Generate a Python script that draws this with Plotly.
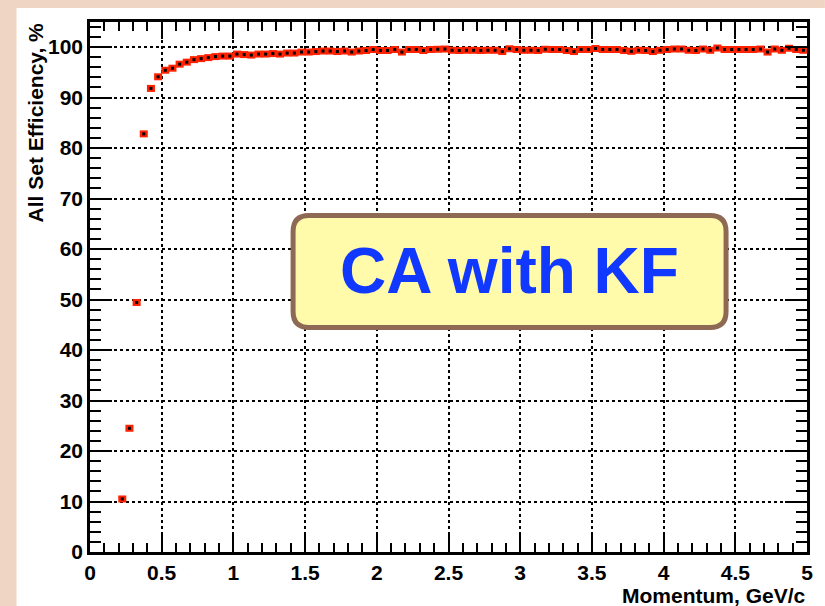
import plotly.graph_objects as go

# Bin centres of the momentum histogram, GeV/c
momentum = [
    0.225, 0.275, 0.325, 0.375, 0.425, 0.475, 0.525, 0.575, 0.625, 0.675,
    0.725, 0.775, 0.825, 0.875, 0.925, 0.975, 1.025, 1.075, 1.125, 1.175,
    1.225, 1.275, 1.325, 1.375, 1.425, 1.475, 1.525, 1.575, 1.625, 1.675,
    1.725, 1.775, 1.825, 1.875, 1.925, 1.975, 2.025, 2.075, 2.125, 2.175,
    2.225, 2.275, 2.325, 2.375, 2.425, 2.475, 2.525, 2.575, 2.625, 2.675,
    2.725, 2.775, 2.825, 2.875, 2.925, 2.975, 3.025, 3.075, 3.125, 3.175,
    3.225, 3.275, 3.325, 3.375, 3.425, 3.475, 3.525, 3.575, 3.625, 3.675,
    3.725, 3.775, 3.825, 3.875, 3.925, 3.975, 4.025, 4.075, 4.125, 4.175,
    4.225, 4.275, 4.325, 4.375, 4.425, 4.475, 4.525, 4.575, 4.625, 4.675,
    4.725, 4.775, 4.825, 4.875, 4.925, 4.975,
]

# Efficiency for the whole track set, %
efficiency = [
    10.5, 24.5, 49.4, 82.8, 91.8, 94.1, 95.4, 95.8, 96.6, 97.0,
    97.5, 97.7, 97.9, 98.1, 98.2, 98.2, 98.6, 98.5, 98.4, 98.6,
    98.6, 98.7, 98.6, 98.8, 98.8, 99.0, 99.0, 99.1, 99.2, 99.2,
    99.1, 99.2, 99.0, 99.2, 99.3, 99.5, 99.3, 99.3, 99.5, 99.0,
    99.5, 99.5, 99.3, 99.5, 99.55, 99.6, 99.35, 99.3, 99.35, 99.35,
    99.3, 99.35, 99.35, 99.1, 99.65, 99.5, 99.35, 99.35, 99.3, 99.55,
    99.5, 99.5, 99.3, 99.1, 99.5, 99.5, 99.7, 99.5, 99.5, 99.5,
    99.3, 99.15, 99.35, 99.3, 99.1, 99.35, 99.5, 99.6, 99.6, 99.35,
    99.3, 99.6, 99.35, 99.8, 99.5, 99.5, 99.5, 99.5, 99.5, 99.6,
    99.0, 99.6, 99.35, 99.75, 99.5, 99.35,
]

half_bin = [0.028] * len(momentum)

x_ticks = [0, 0.5, 1, 1.5, 2, 2.5, 3, 3.5, 4, 4.5, 5]
x_tick_text = ["0", "0.5", "1", "1.5", "2", "2.5", "3", "3.5", "4", "4.5", "5"]
y_ticks = [0, 10, 20, 30, 40, 50, 60, 70, 80, 90, 100]
y_tick_text = ["0", "10", "20", "30", "40", "50", "60", "70", "80", "90", "100"]

W, H = 825, 606
L, R, T, B = 90, 812, 22, 552   # plot frame in pixels


def px(xp):
    return (xp - L) / (R - L)


def py(yp):
    return (B - yp) / (B - T)


FONT = "Liberation Sans"
RED = "#ff2200"
PEACH = "#efd5c3"

fig = go.Figure()
fig.add_trace(go.Scatter(
    x=momentum, y=efficiency, mode="markers",
    marker=dict(symbol="square", size=3, color="black"),
    error_x=dict(type="data", array=half_bin, symmetric=True,
                 color=RED, thickness=7, width=0),
    showlegend=False, hoverinfo="x+y",
))

# peach slide border along the left and top edges
shapes = [
    dict(type="rect", xref="paper", yref="paper",
         x0=px(-5), x1=px(16), y0=py(H + 5), y1=py(-5),
         fillcolor=PEACH, line=dict(width=0), layer="below"),
    dict(type="rect", xref="paper", yref="paper",
         x0=px(-5), x1=px(W + 5), y0=py(8), y1=py(-5),
         fillcolor=PEACH, line=dict(width=0), layer="below"),
]

# rounded label box
bx0, bx1, by0, by1, r = 294.5, 730.5, 215.5, 327.5, 16
path = (
    f"M {px(bx0 + r)},{py(by0)} L {px(bx1 - r)},{py(by0)} "
    f"Q {px(bx1)},{py(by0)} {px(bx1)},{py(by0 + r)} "
    f"L {px(bx1)},{py(by1 - r)} Q {px(bx1)},{py(by1)} {px(bx1 - r)},{py(by1)} "
    f"L {px(bx0 + r)},{py(by1)} Q {px(bx0)},{py(by1)} {px(bx0)},{py(by1 - r)} "
    f"L {px(bx0)},{py(by0 + r)} Q {px(bx0)},{py(by0)} {px(bx0 + r)},{py(by0)} Z"
)
shapes.append(dict(type="path", xref="paper", yref="paper", path=path,
                   fillcolor="#fffbaa", line=dict(color="#8e6a55", width=5),
                   layer="above"))

annotations = [
    dict(text="CA with KF", xref="paper", yref="paper",
         x=px(512), y=py(271), xanchor="center", yanchor="middle",
         showarrow=False,
         font=dict(family=FONT, size=64, color="#1038ff", weight="bold")),
    dict(text="All Set Efficiency, %", xref="paper", yref="paper",
         x=px(35), y=py(20), xanchor="center", yanchor="top",
         textangle=-90, showarrow=False,
         font=dict(family=FONT, size=21, color="black", weight="bold")),
    dict(text="Momentum, GeV/c", xref="paper", yref="paper",
         x=px(813), y=py(595), xanchor="right", yanchor="middle",
         showarrow=False,
         font=dict(family=FONT, size=21, color="black", weight="bold")),
]

axis_common = dict(
    showline=True, linecolor="black", linewidth=2.5, mirror="allticks",
    ticks="inside", tickcolor="black", tickwidth=2,
    showgrid=True, gridcolor="black", gridwidth=1.5, griddash="dot",
    zeroline=False,
    tickfont=dict(family=FONT, size=21, color="black", weight="bold"),
)

fig.update_layout(
    width=W, height=H,
    margin=dict(l=L, r=W - R, t=T, b=H - B),
    paper_bgcolor="white",
    plot_bgcolor="white",
    shapes=shapes,
    annotations=annotations,
    xaxis=dict(range=[0, 5], tickvals=x_ticks, ticktext=x_tick_text,
               ticklen=17, ticklabelstandoff=0,
               minor=dict(dtick=0.1, ticks="inside", ticklen=9,
                          tickwidth=2, tickcolor="black", showgrid=False),
               **axis_common),
    yaxis=dict(range=[0, 104.95], tickvals=y_ticks, ticktext=y_tick_text,
               ticklen=22,
               minor=dict(dtick=2, ticks="inside", ticklen=11,
                          tickwidth=2, tickcolor="black", showgrid=False),
               **axis_common),
)

fig.write_html("out.html")
